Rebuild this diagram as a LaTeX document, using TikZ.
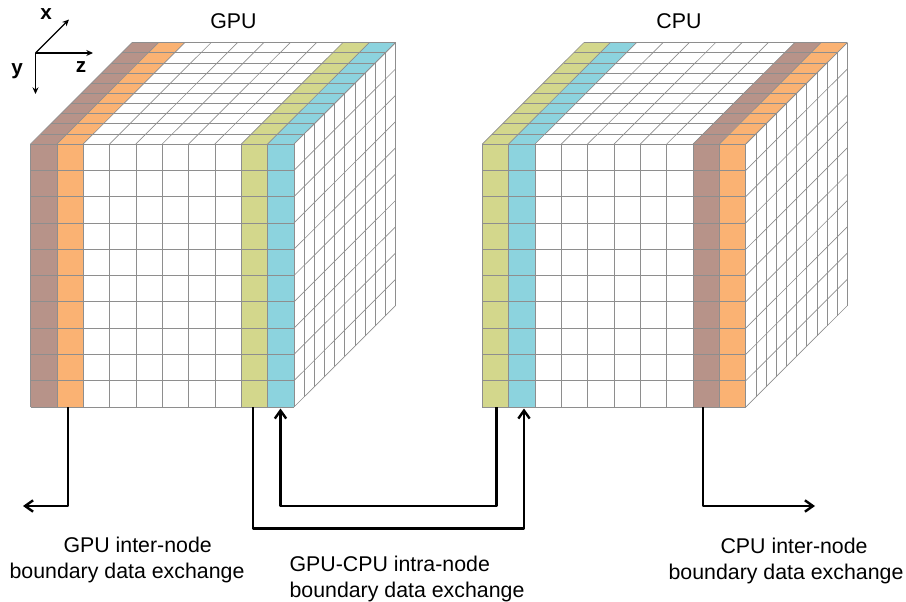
\documentclass[tikz,border=0pt]{standalone}
\usepackage{fontspec}
\setmainfont{Liberation Sans}
\usetikzlibrary{arrows.meta}
\definecolor{cbrown}{HTML}{B79389}
\definecolor{corange}{HTML}{FAB273}
\definecolor{cgreen}{HTML}{D3D78C}
\definecolor{cblue}{HTML}{8CD3DE}
\definecolor{gridc}{HTML}{8E8E8E}
\tikzset{
  x=0.75pt,y=-0.75pt,
  gridline/.style={draw=gridc,line width=0.5pt},
  bigarrow/.style={draw=black,line width=1.8pt,line join=round,-{Straight Barb[length=6pt,width=8.5pt,line width=1.8pt]}},
  axisarrow/.style={draw=black,line width=1pt,-{Stealth[length=5pt,width=4.5pt]}},
  lbl/.style={font=\fontsize{16pt}{19.5pt}\selectfont,align=left,inner sep=0pt},
  axlbl/.style={font=\bfseries\fontsize{15.5pt}{18pt}\selectfont,inner sep=0pt}
}
\newcommand{\slab}[3]{%
  \fill[#3] (#1+#2*26.35,144) -- (#1+#2*26.35+26.35,144) -- (#1+#2*26.35+26.35,407) -- (#1+#2*26.35,407) -- cycle;
  \fill[#3] (#1+#2*26.35,144) -- (#1+#2*26.35+26.35,144) -- (#1+#2*26.35+26.35+101.5,42.7) -- (#1+#2*26.35+101.5,42.7) -- cycle;
}
\newcommand{\cubegrid}[1]{%
  \foreach \i in {0,...,10}{
    \draw[gridline] (#1+\i*26.35,144) -- (#1+\i*26.35,407);
    \draw[gridline] (#1,144+\i*26.3) -- (#1+263.5,144+\i*26.3);
    \draw[gridline] (#1+\i*26.35,144) -- (#1+\i*26.35+101.5,42.7);
    \draw[gridline] (#1+\i*10.15,144-\i*10.13) -- (#1+263.5+\i*10.15,144-\i*10.13);
    \draw[gridline] (#1+263.5+\i*10.15,144-\i*10.13) -- (#1+263.5+\i*10.15,407-\i*10.13);
    \draw[gridline] (#1+263.5,144+\i*26.3) -- (#1+263.5+101.5,42.7+\i*26.3);
  }
}
\begin{document}
\begin{tikzpicture}
\useasboundingbox (0,0) rectangle (906,602);
% GPU cube
\slab{30.5}{0}{cbrown}
\slab{30.5}{1}{corange}
\slab{30.5}{8}{cgreen}
\slab{30.5}{9}{cblue}
\cubegrid{30.5}
% CPU cube
\slab{482.3}{0}{cgreen}
\slab{482.3}{1}{cblue}
\slab{482.3}{8}{cbrown}
\slab{482.3}{9}{corange}
\cubegrid{482.3}
% titles
\node[lbl] (gputitle) at (233.5,21) {GPU};
\node[lbl] (cputitle) at (679,21) {CPU};
% axes
\coordinate (axo) at (35.5,53);
\coordinate (axx) at (69,19.5);
\coordinate (axz) at (93,53);
\coordinate (axy) at (35.5,94);
\draw[axisarrow] (axo) -- (axx);
\draw[axisarrow] (axo) -- (axz);
\draw[axisarrow] (axo) -- (axy);
\node[axlbl] (lx) at (46,14) {x};
\node[axlbl] (ly) at (17,71) {y};
\node[axlbl] (lz) at (81,67) {z};
% connector anchors
\coordinate (ginterS) at (68,407);
\coordinate (ginterE) at (23,506);
\coordinate (gtoS) at (253,407);
\coordinate (gtoE) at (524,408.5);
\coordinate (ctoS) at (496.5,407);
\coordinate (ctoE) at (280.5,408.5);
\coordinate (cinterS) at (703,407);
\coordinate (cinterE) at (815,506);
\draw[bigarrow] (ginterS) |- (ginterE);
\draw[bigarrow] (gtoS) -- (253,528.5) -- (524,528.5) -- (gtoE);
\draw[bigarrow] (ctoS) -- (496.5,506) -- (280.5,506) -- (ctoE);
\draw[bigarrow] (cinterS) |- (cinterE);
% labels
\node[lbl] (l1) at (127,559.5) {\hspace*{40.5pt}GPU inter-node\\boundary data exchange};
\node[lbl] (l2) at (407,579) {GPU-CPU intra-node\\boundary data exchange};
\node[lbl] (l3) at (786,561) {\hspace*{39pt}CPU inter-node\\boundary data exchange};
\end{tikzpicture}
\end{document}
